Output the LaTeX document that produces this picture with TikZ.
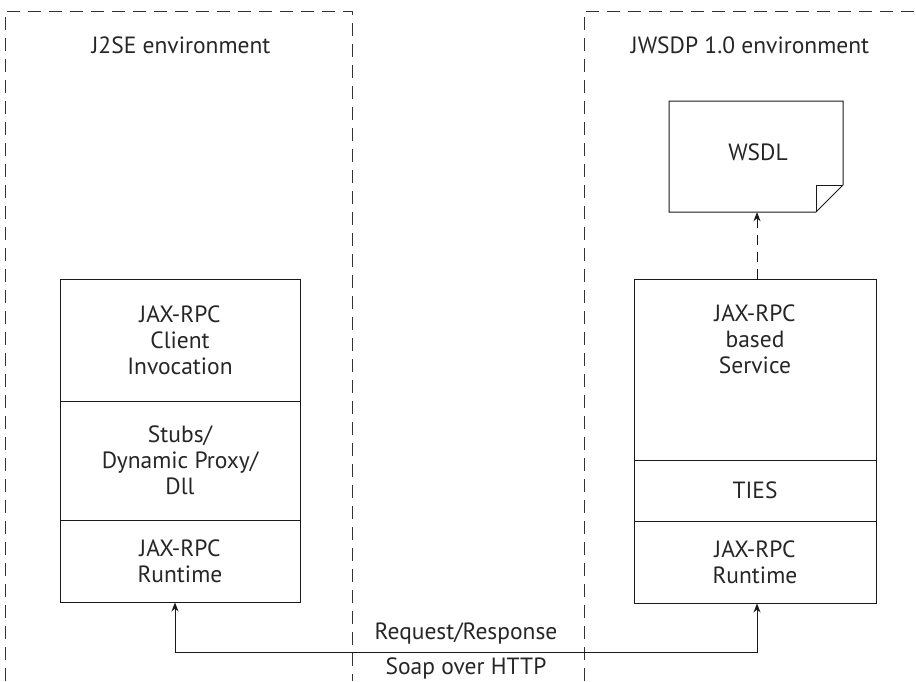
\documentclass[tikz,border=0pt]{standalone}
\usepackage{fontspec}
\setmainfont{PT Sans}
\usetikzlibrary{arrows.meta}
\begin{document}
\begin{tikzpicture}[x=1pt,y=-1pt,
  env/.style={draw=black!80, line width=0.9pt, dash pattern=on 13pt off 8pt},
  box/.style={draw=black!90, line width=1pt, minimum width=#1, inner sep=0pt},
  lbl/.style={font=\fontsize{23.5}{26}\selectfont, align=center, text=black!85, inner sep=0pt},
  conn/.style={draw=black!90, line width=0.9pt, arrows={-Stealth[length=9pt,width=7pt]}},
  dashconn/.style={conn, dash pattern=on 10pt off 7pt}]
\useasboundingbox (0,0) rectangle (916,681);
% environments
\draw[env] (5,681) -- (5,11) -- (352,11) -- (352,681);
\draw[env] (584,681) -- (584,11) -- (916,11);
\node[lbl] (j2se) at (181,45) {J2SE environment};
\node[lbl] (jwsdp) at (750,45) {JWSDP 1.0 environment};
% left stack
\node[box=240pt, minimum height=122pt, lbl] (l1) at (180,340) {JAX-RPC\\Client\\Invocation};
\node[box=240pt, minimum height=119pt, lbl] (l2) at (180,460.5) {Stubs/\\Dynamic Proxy/\\Dll};
\node[box=240pt, minimum height=82pt, lbl] (l3) at (180,561) {JAX-RPC\\Runtime};
% right stack
\node[box=242pt, minimum height=181pt] (r1) at (755,369.5) {};
\node[lbl] (r1t) at (755,339) {JAX-RPC\\based\\Service};
\node[box=242pt, minimum height=61pt, lbl] (r2) at (755,490.5) {TIES};
\node[box=242pt, minimum height=82pt, lbl] (r3) at (755,562) {JAX-RPC\\Runtime};
% WSDL document
\draw[line width=1pt, draw=black!90] (669,101) -- (843,101) -- (843,185) -- (816,212) -- (669,212) -- cycle;
\draw[line width=1pt, draw=black!90] (843,185) -- (816,185) -- (816,212);
\node[minimum width=174pt, minimum height=111pt, inner sep=0pt] (wsdl) at (756,156.5) {};
\node[lbl] (wsdlt) at (758,152) {WSDL};
\draw[dashconn] ([xshift=2pt]r1.north) -- ([xshift=2pt]r1.north |- wsdl.south);
% request/response
\coordinate (cl) at ([xshift=-5pt]l3.south);
\coordinate (cr) at ([xshift=2pt]r3.south);
\draw[conn, arrows={Stealth[length=9pt,width=7pt]-Stealth[length=9pt,width=7pt]}] (cl) -- ++(0,50) -| (cr);
\node[lbl] (req) at (466,633) {Request/Response};
\node[lbl] (soap) at (466,668) {Soap over HTTP};
\end{tikzpicture}
\end{document}
